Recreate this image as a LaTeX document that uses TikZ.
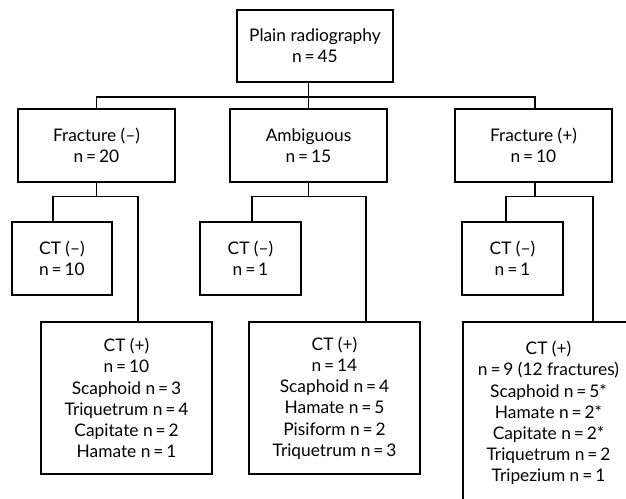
\documentclass[tikz,border=0pt]{standalone}
\usepackage{fontspec}
\setmainfont{Lato}
\usetikzlibrary{calc}

\tikzset{
  box/.style={draw, line width=0.9pt, align=center, inner sep=0pt,
    font=\fontsize{13}{15.9}\selectfont},
  sz/.style 2 args={minimum width=#1*0.75pt, minimum height=#2*0.75pt},
  link/.style={line width=0.9pt}
}

\begin{document}
\begin{tikzpicture}[x=0.75pt, y=-0.75pt]
\useasboundingbox (0,0) rectangle (626,499);
\clip (0,0) rectangle (626,499);

% first level
\node[box, sz={156}{72}] (top) at (315,46) {Plain radiography\\n\,=\,45};
\node[box, sz={157}{73}] (fneg) at (96.5,145.5) {Fracture (--)\\n\,=\,20};
\node[box, sz={157}{73}] (amb) at (308.5,145.5) {Ambiguous\\n\,=\,15};
\node[box, sz={157}{73}] (fpos) at (533.5,145.5) {Fracture (+)\\n\,=\,10};

% CT results
\node[box, sz={100}{73}] (ctnA) at (62,258.5) {CT (--)\\n\,=\,10};
\node[box, sz={101}{73}] (ctnB) at (250.5,258.5) {CT (--)\\n\,=\,1};
\node[box, sz={101}{73}] (ctnC) at (512.5,258.5) {CT (--)\\n\,=\,1};
\node[box, sz={171}{152}] (ctpA) at (126.5,398) {CT (+)\\n\,=\,10\\Scaphoid n\,=\,3\\Triquetrum n\,=\,4\\Capitate n\,=\,2\\Hamate n\,=\,1};
\node[box, sz={171}{152}] (ctpB) at (334.5,398) {CT (+)\\n\,=\,14\\Scaphoid n\,=\,4\\Hamate n\,=\,5\\Pisiform n\,=\,2\\Triquetrum n\,=\,3};
\node[box, sz={171}{182}] (ctpC) at (548.5,413) {CT (+)\\n\,=\,9 (12 fractures)\\Scaphoid n\,=\,5*\\Hamate n\,=\,2*\\Capitate n\,=\,2*\\Triquetrum n\,=\,2\\Tripezium n\,=\,1};

% connectors
\draw[link] ($(top.south)+(-6.5,0)$) -- (amb.north);
\coordinate (bus) at (308.5,97);
\draw[link] (fneg.north) |- (bus) -| ($(fpos.north)+(1.5,0)$);

\draw[link] (fneg.south) -- ++(0,14) coordinate (jA);
\draw[link] ($(ctnA.north)+(-9,0)$) |- (jA) -| ($(ctpA.north)+(11.5,0)$);
\draw[link] (amb.south) -- ++(0,14) coordinate (jB);
\draw[link] ($(ctnB.north)+(1.5,0)$) |- (jB) -| ($(ctpB.north)+(31.5,0)$);
\draw[link] ($(fpos.south)+(1.5,0)$) -- ++(0,14) coordinate (jC);
\draw[link] ($(ctnC.north)+(-6.5,0)$) |- (jC) -| ($(ctpC.north)+(44.5,0)$);
\end{tikzpicture}
\end{document}
